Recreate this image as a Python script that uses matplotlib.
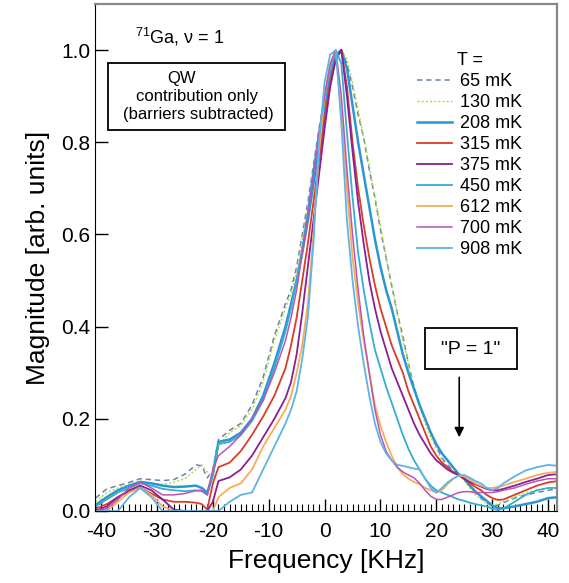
import matplotlib
matplotlib.use("Agg")
from matplotlib import pyplot as plt
from matplotlib.patches import Rectangle
from matplotlib.ticker import MultipleLocator

plt.rcParams["font.family"] = ["Liberation Sans", "DejaVu Sans"]
plt.rcParams["mathtext.fontset"] = "custom"
plt.rcParams["mathtext.rm"] = "Liberation Sans"
plt.rcParams["axes.unicode_minus"] = False

# Frequency grid [kHz]
freq = [-41, -39, -37, -35, -33, -31, -29, -27, -25, -23, -22, -21, -20, -19,
        -17, -15, -13, -11, -9, -7, -6, -5, -4, -3, -2, -1, 0, 1, 2, 3, 4, 5,
        6, 7, 8, 9, 10, 11, 12, 13, 14, 15, 16, 17, 18, 19, 20, 21, 22, 23, 24,
        25, 26, 27, 28, 29, 30, 31, 32, 34, 36, 38, 40, 41.8]

temps = ["65 mK", "130 mK", "208 mK", "315 mK", "375 mK",
         "450 mK", "612 mK", "700 mK", "908 mK"]

mag_65 = [0.028, 0.048, 0.055, 0.062, 0.07, 0.068, 0.066, 0.068, 0.08, 0.1,
          0.098, 0.072, 0.09, 0.155, 0.175, 0.19, 0.23, 0.29, 0.38, 0.45, 0.48,
          0.53, 0.6, 0.67, 0.75, 0.83, 0.9, 0.95, 0.99, 1.0, 0.97, 0.92, 0.86,
          0.81, 0.74, 0.68, 0.61, 0.55, 0.49, 0.43, 0.38, 0.32, 0.27, 0.23,
          0.2, 0.17, 0.14, 0.115, 0.1, 0.088, 0.08, 0.07, 0.055, 0.04, 0.028,
          0.018, 0.01, 0.012, 0.018, 0.028, 0.035, 0.04, 0.045, 0.048]
mag_130 = [0.02, 0.04, 0.05, 0.058, 0.065, 0.06, 0.058, 0.062, 0.07, 0.09,
           0.1, 0.085, 0.07, 0.14, 0.17, 0.185, 0.22, 0.28, 0.37, 0.44, 0.47,
           0.52, 0.59, 0.66, 0.74, 0.82, 0.89, 0.95, 0.99, 1.0, 0.98, 0.93,
           0.87, 0.81, 0.75, 0.68, 0.62, 0.55, 0.49, 0.43, 0.37, 0.32, 0.27,
           0.23, 0.19, 0.16, 0.135, 0.11, 0.095, 0.085, 0.078, 0.065, 0.05,
           0.035, 0.025, 0.015, 0.012, 0.015, 0.02, 0.03, 0.04, 0.045, 0.05,
           0.05]
mag_208 = [0.013, 0.03, 0.045, 0.055, 0.063, 0.06, 0.055, 0.052, 0.053, 0.055,
           0.05, 0.04, 0.08, 0.15, 0.155, 0.17, 0.2, 0.25, 0.32, 0.4, 0.45,
           0.5, 0.56, 0.63, 0.71, 0.79, 0.87, 0.94, 0.99, 1.0, 0.96, 0.88,
           0.8, 0.73, 0.66, 0.59, 0.53, 0.48, 0.44, 0.39, 0.34, 0.3, 0.265,
           0.23, 0.2, 0.17, 0.145, 0.125, 0.11, 0.095, 0.08, 0.07, 0.055,
           0.042, 0.032, 0.022, 0.012, 0.006, 0.006, 0.01, 0.015, 0.02, 0.028,
           0.03]
mag_315 = [0.005, 0.015, 0.03, 0.042, 0.05, 0.038, 0.025, 0.02, 0.02, 0.018,
           0.015, 0.003, 0.06, 0.095, 0.105, 0.13, 0.165, 0.205, 0.25, 0.31,
           0.36, 0.42, 0.5, 0.58, 0.67, 0.76, 0.85, 0.93, 0.98, 1.0, 0.92, 0.8,
           0.7, 0.62, 0.55, 0.49, 0.44, 0.4, 0.36, 0.33, 0.3, 0.26, 0.23, 0.2,
           0.17, 0.14, 0.12, 0.105, 0.095, 0.085, 0.078, 0.07, 0.06, 0.052,
           0.045, 0.035, 0.028, 0.024, 0.025, 0.035, 0.045, 0.055, 0.062,
           0.065]
mag_375 = [0.0, 0.01, 0.03, 0.045, 0.055, 0.045, 0.025, 0.003, 0.0, 0.0, 0.0,
           0.0, 0.02, 0.065, 0.073, 0.09, 0.12, 0.16, 0.2, 0.245, 0.28, 0.34,
           0.43, 0.53, 0.63, 0.73, 0.83, 0.92, 0.98, 1.0, 0.9, 0.78, 0.67,
           0.58, 0.5, 0.44, 0.39, 0.35, 0.31, 0.28, 0.25, 0.22, 0.19, 0.165,
           0.145, 0.125, 0.11, 0.1, 0.09, 0.083, 0.078, 0.07, 0.063, 0.058,
           0.053, 0.048, 0.045, 0.045, 0.048, 0.055, 0.063, 0.07, 0.078, 0.08]
mag_450 = [0.01, 0.025, 0.04, 0.05, 0.06, 0.055, 0.048, 0.045, 0.043, 0.045,
           0.043, 0.035, 0.08, 0.145, 0.15, 0.165, 0.195, 0.24, 0.31, 0.39,
           0.44, 0.5, 0.57, 0.65, 0.74, 0.82, 0.9, 0.96, 1.0, 0.97, 0.82, 0.68,
           0.56, 0.48, 0.41, 0.35, 0.31, 0.27, 0.235, 0.2, 0.165, 0.135, 0.11,
           0.09, 0.07, 0.055, 0.045, 0.04, 0.035, 0.03, 0.025, 0.022, 0.018,
           0.015, 0.012, 0.01, 0.005, 0.002, 0.005, 0.02, 0.035, 0.045, 0.05,
           0.05]
mag_612 = [0.0, 0.0, 0.02, 0.04, 0.05, 0.035, 0.01, 0.0, 0.0, 0.0, 0.0, 0.0,
           0.0, 0.03, 0.05, 0.06, 0.09, 0.14, 0.18, 0.22, 0.25, 0.3, 0.36,
           0.45, 0.6, 0.78, 0.9, 0.97, 1.0, 0.86, 0.7, 0.55, 0.45, 0.37, 0.3,
           0.23, 0.185, 0.15, 0.12, 0.095, 0.08, 0.07, 0.063, 0.058, 0.05,
           0.045, 0.04, 0.045, 0.058, 0.07, 0.077, 0.075, 0.068, 0.06, 0.055,
           0.05, 0.05, 0.052, 0.055, 0.063, 0.07, 0.078, 0.083, 0.085]
mag_700 = [0.0, 0.005, 0.025, 0.05, 0.063, 0.05, 0.035, 0.035, 0.038, 0.044,
           0.045, 0.035, 0.09, 0.12, 0.14, 0.165, 0.2, 0.24, 0.3, 0.37, 0.42,
           0.48, 0.56, 0.64, 0.73, 0.82, 0.9, 0.97, 1.0, 0.9, 0.74, 0.6, 0.48,
           0.38, 0.3, 0.22, 0.165, 0.13, 0.11, 0.095, 0.085, 0.078, 0.072,
           0.06, 0.045, 0.032, 0.025, 0.025, 0.03, 0.035, 0.04, 0.042, 0.042,
           0.04, 0.04, 0.04, 0.04, 0.042, 0.045, 0.05, 0.058, 0.065, 0.07,
           0.07]
mag_908 = [0.0, 0.0, 0.0, 0.03, 0.05, 0.03, 0.0, 0.0, 0.0, 0.0, 0.0, 0.0,
           0.0, 0.0, 0.02, 0.035, 0.04, 0.09, 0.14, 0.19, 0.22, 0.26, 0.33,
           0.42, 0.58, 0.8, 0.93, 0.99, 1.0, 0.84, 0.63, 0.5, 0.4, 0.32, 0.25,
           0.19, 0.15, 0.125, 0.11, 0.1, 0.098, 0.095, 0.092, 0.09, 0.07, 0.05,
           0.04, 0.05, 0.062, 0.07, 0.077, 0.078, 0.072, 0.065, 0.06, 0.05,
           0.045, 0.05, 0.06, 0.075, 0.088, 0.095, 0.1, 0.098]

series = [mag_65, mag_130, mag_208, mag_315, mag_375,
          mag_450, mag_612, mag_700, mag_908]
colors = ["#6a7fc0", "#b2dc2c", "#2a96d6", "#d83d25", "#8a1f96",
          "#35aed0", "#f6ad55", "#b955b5", "#5fb4e6"]
widths = [1.1, 1.0, 1.8, 1.3, 1.3, 1.3, 1.3, 1.1, 1.3]

fig = plt.figure(figsize=(5.69, 5.83), dpi=100)
ax = fig.add_axes([95 / 569, 72 / 583, 462 / 569, 507 / 583])

for i, (vals, lab) in enumerate(zip(series, temps)):
    if i == 0:
        ax.plot(freq, vals, color=colors[i], lw=widths[i], label=lab,
                dashes=(3.5, 2.5))
    elif i == 1:
        ax.plot(freq, vals, color=colors[i], lw=widths[i], label=lab,
                dashes=(1.5, 1.5))
    else:
        ax.plot(freq, vals, color=colors[i], lw=widths[i], label=lab)

ax.set_xlim(-41.1, 41.6)
ax.set_ylim(0, 1.1)
ax.xaxis.set_major_locator(MultipleLocator(10))
ax.xaxis.set_minor_locator(MultipleLocator(1))
ax.yaxis.set_major_locator(MultipleLocator(0.2))
ax.yaxis.set_major_formatter(plt.FuncFormatter(lambda v, p: f"{v:.1f}"))
ax.tick_params(axis="both", which="major", direction="in", length=9,
               width=1, labelsize=15, top=False, right=False)
ax.tick_params(axis="x", which="minor", direction="in", length=5, width=0.8)
ax.tick_params(axis="x", which="major", pad=8)

for side in ["top", "right"]:
    ax.spines[side].set_color("#888888")
    ax.spines[side].set_linewidth(1.6)

ax.set_xlabel("Frequency [KHz]", fontsize=19, labelpad=6)
ax.set_ylabel("Magnitude [arb. units]", fontsize=19, labelpad=8)

leg = ax.legend(title="T =", loc="upper left", bbox_to_anchor=(0.697, 0.905),
                frameon=False, fontsize=13, title_fontsize=13,
                handlelength=1.95, handletextpad=0.45, labelspacing=0.22,
                borderpad=0, borderaxespad=0)

# annotations (figure pixel coordinates)
def px(x, y):
    return x / 569, 1 - y / 583

fig.text(*px(135, 37), "$^{71}$Ga, ν = 1", fontsize=13, va="center", ha="left")
x0, y0 = px(108, 130)
x1, y1 = px(285, 63)
fig.patches.append(Rectangle((x0, y0), x1 - x0, y1 - y0, fill=False,
                             ec="black", lw=1.3, transform=fig.transFigure))
fig.text(*px(182, 78), "QW", fontsize=12, ha="center", va="center")
fig.text(*px(197, 96), "contribution only", fontsize=12, ha="center",
         va="center")
fig.text(*px(198, 115), "(barriers subtracted)", fontsize=12, ha="center",
         va="center")

x0, y0 = px(425, 369)
x1, y1 = px(517, 328)
fig.patches.append(Rectangle((x0, y0), x1 - x0, y1 - y0, fill=False,
                             ec="black", lw=1.3, transform=fig.transFigure))
fig.text(*px(471, 349), '"P = 1"', fontsize=14, ha="center", va="center")
ax.annotate("", xy=(24.1, 0.16), xytext=(24.1, 0.29),
            arrowprops=dict(arrowstyle="-|>", color="black", lw=1.2,
                            mutation_scale=14, shrinkA=0, shrinkB=0))

fig.savefig("out.png", dpi=100)
